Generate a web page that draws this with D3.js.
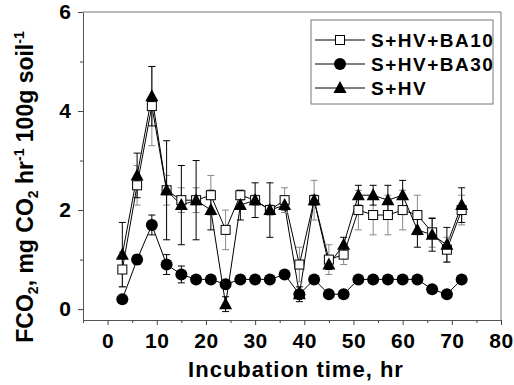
<!DOCTYPE html>
<html>
<head>
<meta charset="utf-8">
<script src="https://cdn.jsdelivr.net/npm/d3@7"></script>
<style>
  body { margin: 0; background: #fff; }
  svg { display: block; font-family: Arial, "Liberation Sans", sans-serif; font-weight: bold; }
</style>
</head>
<body>
<div id="chart"></div>
<script>
// incubation time (hr)
const times = [3, 6, 9, 12, 15, 18, 21, 24, 27, 30, 33, 36, 39, 42, 45, 48, 51, 54, 57, 60, 63, 66, 69, 72];

// S+HV+BA10 (open squares)
const ba10 = [0.8, 2.5, 4.1, 2.4, 2.2, 2.2, 2.3, 1.6, 2.3, 2.2, 2.0, 2.2, 0.9, 2.2, 1.0, 1.1, 2.0, 1.9, 1.9, 2.0, 1.9, 1.55, 1.2, 2.0];
const ba10Err = [0.35, 0.4, 0.8, 0.3, 0.25, 0.25, 0.4, 0.4, 0.1, 0.1, 0.1, 0.25, 0.35, 0.4, 0.3, 0.2, 0.4, 0.4, 0.4, 0.4, 0.4, 0.3, 0.25, 0.3];

// S+HV+BA30 (filled circles)
const ba30 = [0.2, 1.0, 1.7, 0.9, 0.7, 0.6, 0.6, 0.5, 0.6, 0.6, 0.6, 0.7, 0.3, 0.6, 0.3, 0.3, 0.6, 0.6, 0.6, 0.6, 0.6, 0.4, 0.3, 0.6];
const ba30Err = [0.05, 0.1, 0.2, 0.2, 0.17, 0.05, 0.05, 0.05, 0.05, 0.05, 0.05, 0.05, 0.05, 0.05, 0.05, 0.05, 0.05, 0.05, 0.05, 0.05, 0.05, 0.05, 0.05, 0.05];

// S+HV (filled triangles)
const shv = [1.1, 2.7, 4.3, 2.4, 2.1, 2.2, 2.0, 0.1, 2.1, 2.2, 2.0, 2.1, 0.3, 2.2, 0.9, 1.3, 2.3, 2.3, 2.2, 2.3, 1.6, 1.5, 1.3, 2.1];
const shvErr = [0.65, 0.45, 0.6, 1.0, 0.8, 0.8, 0.4, 0.15, 0.3, 0.35, 0.55, 0.1, 0.15, 0.1, 0.1, 0.15, 0.2, 0.2, 0.3, 0.3, 0.35, 0.33, 0.35, 0.35];

const xTicks = [0, 10, 20, 30, 40, 50, 60, 70, 80];
const xMinor = [-5, 5, 15, 25, 35, 45, 55, 65, 75];
const yTicks = [0, 2, 4, 6];
const yMinor = [1, 3, 5];

const legendNames = ['S+HV+BA10', 'S+HV+BA30', 'S+HV'];

const width = 514, height = 385;
const plot = { left: 83, right: 501, top: 12, bottom: 320 };

const svg = d3.select('#chart').append('svg')
    .attr('width', width)
    .attr('height', height);

const x = d3.scaleLinear().domain([-5, 80]).range([plot.left, plot.right]);
const y = d3.scaleLinear().domain([-0.22, 6]).range([plot.bottom, plot.top]);

// frame (top/right)
svg.append('path')
    .attr('d', `M${plot.left},${plot.top}H${plot.right}V${plot.bottom}`)
    .attr('fill', 'none')
    .attr('stroke', '#777')
    .attr('stroke-width', 1);

// axes
const xAxis = svg.append('g')
    .attr('transform', `translate(0,${plot.bottom})`)
    .call(d3.axisBottom(x).tickValues(xTicks).tickFormat(d3.format('d')).tickSize(5).tickSizeOuter(0).tickPadding(8));
svg.append('g')
    .attr('transform', `translate(0,${plot.bottom})`)
    .call(d3.axisBottom(x).tickValues(xMinor).tickSize(3).tickFormat('').tickSizeOuter(0))
    .select('.domain').remove();

const yAxis = svg.append('g')
    .attr('transform', `translate(${plot.left},0)`)
    .call(d3.axisLeft(y).tickValues(yTicks).tickFormat(d3.format('d')).tickSize(5).tickSizeOuter(0).tickPadding(7));
svg.append('g')
    .attr('transform', `translate(${plot.left},0)`)
    .call(d3.axisLeft(y).tickValues(yMinor).tickSize(3).tickFormat('').tickSizeOuter(0))
    .select('.domain').remove();

svg.selectAll('.domain').attr('stroke', '#555');
svg.selectAll('.tick line').attr('stroke', '#444');
xAxis.selectAll('text')
    .attr('font-size', 21).attr('font-weight', 'bold').attr('fill', '#000')
    .attr('letter-spacing', 0.5).attr('font-family', 'Arial, "Liberation Sans", sans-serif');
yAxis.selectAll('text')
    .attr('font-size', 21).attr('font-weight', 'bold').attr('fill', '#000')
    .attr('font-family', 'Arial, "Liberation Sans", sans-serif');

// axis titles
svg.append('text')
    .attr('x', (plot.left + plot.right) / 2 + 4)
    .attr('y', 377)
    .attr('text-anchor', 'middle')
    .attr('font-size', 22)
    .attr('letter-spacing', 1)
    .text('Incubation time, hr');

const yt = svg.append('text')
    .attr('transform', 'translate(33,187) rotate(-90)')
    .attr('text-anchor', 'middle')
    .attr('font-size', 23);
yt.append('tspan').text('FCO');
yt.append('tspan').attr('font-size', 14).attr('dy', 5).text('2');
yt.append('tspan').attr('dy', -5).text(', mg CO');
yt.append('tspan').attr('font-size', 14).attr('dy', 5).text('2');
yt.append('tspan').attr('dy', -5).text(' hr');
yt.append('tspan').attr('font-size', 14).attr('dy', -9).text('-1');
yt.append('tspan').attr('dy', 9).text(' 100g soil');
yt.append('tspan').attr('font-size', 14).attr('dy', -9).text('-1');

// series
const series = [
    { name: legendNames[0], values: ba10, err: ba10Err, shape: 'square', errColor: '#888' },
    { name: legendNames[1], values: ba30, err: ba30Err, shape: 'circle', errColor: '#000' },
    { name: legendNames[2], values: shv, err: shvErr, shape: 'triangle', errColor: '#000' }
];

const line = d3.line()
    .x((d, i) => x(times[i]))
    .y(d => y(d));

function drawMarker(sel, shape) {
    if (shape === 'square') {
        sel.append('rect')
            .attr('x', -4.5).attr('y', -4.5)
            .attr('width', 9).attr('height', 9)
            .attr('fill', '#fff').attr('stroke', '#000').attr('stroke-width', 1);
    } else if (shape === 'circle') {
        sel.append('circle')
            .attr('r', 6)
            .attr('fill', '#000');
    } else {
        sel.append('path')
            .attr('d', 'M0,-7L6.5,5L-6.5,5Z')
            .attr('fill', '#000');
    }
}

// lines
series.forEach(s => {
    svg.append('path')
        .datum(s.values)
        .attr('fill', 'none')
        .attr('stroke', '#000')
        .attr('stroke-width', 1)
        .attr('d', line);
});

// error bars
series.forEach(s => {
    const g = svg.append('g')
        .attr('stroke', s.errColor)
        .attr('stroke-width', 1)
        .attr('fill', 'none');
    s.values.forEach((v, i) => {
        const cx = x(times[i]);
        const y0 = y(v - s.err[i]);
        const y1 = y(v + s.err[i]);
        g.append('path')
            .attr('d', `M${cx},${y0}V${y1}M${cx - 3.5},${y0}H${cx + 3.5}M${cx - 3.5},${y1}H${cx + 3.5}`);
    });
});

// markers
series.forEach(s => {
    svg.append('g').selectAll('g')
        .data(s.values)
        .join('g')
        .attr('transform', (d, i) => `translate(${x(times[i])},${y(d)})`)
        .each(function () { drawMarker(d3.select(this), s.shape); });
});

// legend
const legend = svg.append('g');
legend.append('rect')
    .attr('x', 311).attr('y', 20)
    .attr('width', 182).attr('height', 84)
    .attr('fill', '#fff')
    .attr('stroke', '#777')
    .attr('stroke-width', 1);

series.forEach((s, i) => {
    const ly = 40 + i * 24;
    legend.append('line')
        .attr('x1', 315).attr('x2', 365)
        .attr('y1', ly).attr('y2', ly)
        .attr('stroke', '#000').attr('stroke-width', 1);
    const m = legend.append('g').attr('transform', `translate(340,${ly})`);
    drawMarker(m, s.shape);
    legend.append('text')
        .attr('x', 371)
        .attr('y', ly + 7)
        .attr('font-size', 19)
        .attr('letter-spacing', 1.5)
        .text(s.name);
});
</script>
</body>
</html>
